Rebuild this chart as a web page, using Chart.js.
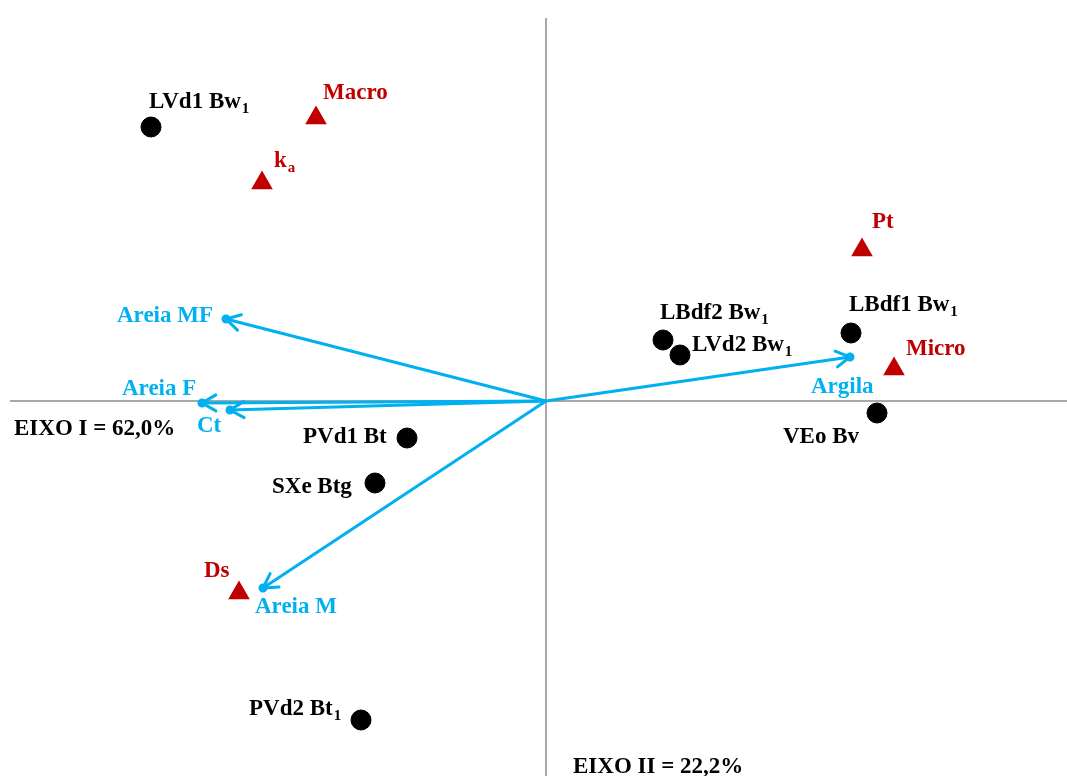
<!DOCTYPE html>
<html>
<head>
<meta charset="utf-8">
<script src="https://cdn.jsdelivr.net/npm/chart.js@4/dist/chart.umd.min.js"></script>
<style>
html,body{margin:0;padding:0;background:#fff;}
#wrap{width:1067px;height:776px;}
</style>
</head>
<body>
<div id="wrap"><canvas id="c" width="1067" height="776"></canvas></div>
<script>
// ---- data (PCA biplot scores) ----
const sampleNames = ["LVd1 Bw", "LBdf2 Bw", "LVd2 Bw", "LBdf1 Bw", "VEo Bv", "PVd1 Bt", "SXe Btg", "PVd2 Bt"];
const sampleSubs  = ["1", "1", "1", "1", "", "", "", "1"];
const sampleX = [-3.95, 1.17, 1.34, 3.05, 3.31, -1.39, -1.71, -1.85];
const sampleY = [ 2.74, 0.61, 0.46, 0.68, -0.12, -0.37, -0.82, -3.19];

const attrNames = ["Macro", "k", "Pt", "Micro", "Ds"];
const attrSubs  = ["", "a", "", "", ""];
const attrX = [-2.30, -2.84, 3.16, 3.48, -3.07];
const attrY = [ 2.83,  2.18, 1.51, 0.32, -1.92];

const vecNames = ["Areia MF", "Areia F", "Ct", "Areia M", "Argila"];
const vecX = [-3.20, -3.44, -3.16, -2.83, 3.04];
const vecY = [ 0.82, -0.02, -0.09, -1.87, 0.44];

const axisTitles = ["EIXO I = 62,0%", "EIXO II = 22,2%"];

// ---- label offsets (pixels, from marker to text baseline-left) ----
const sampleLabelOff = [[-2,-19],[-3,-21],[12,-4],[-2,-22],[-94,30],[-104,5],[-103,10],[-112,-5]];
const attrLabelOff   = [[7,-19],[12,-16],[10,-22],[12,-14],[-35,-16]];
const vecLabelOff    = [[-109,3],[-80,-8],[-33,22],[-8,25],[-39,36]];

const BLACK = "#000000", RED = "#C00000", BLUE = "#00B0F0", GREY = "#8C8C8C";
const FONT = "bold 23px 'Liberation Serif', 'Times New Roman', serif";
const SUBFONT = "bold 15px 'Liberation Serif', 'Times New Roman', serif";

const datasets = [];
vecNames.forEach((n, i) => {
  datasets.push({
    label: n, type: 'scatter', showLine: true,
    data: [{x:0, y:0}, {x: vecX[i], y: vecY[i]}],
    borderColor: BLUE, backgroundColor: BLUE, borderWidth: 3,
    pointRadius: [0, 3], pointHoverRadius: [0,3], clip: false, order: 3,
    isVector: true
  });
});
datasets.push({
  label: 'samples', type: 'scatter',
  data: sampleX.map((x, i) => ({x, y: sampleY[i]})),
  backgroundColor: BLACK, borderColor: BLACK, pointRadius: 10, pointHoverRadius: 10,
  pointStyle: 'circle', clip: false, order: 1
});
datasets.push({
  label: 'attributes', type: 'scatter',
  data: attrX.map((x, i) => ({x, y: attrY[i]})),
  backgroundColor: RED, borderColor: RED, pointRadius: 12.5, pointHoverRadius: 12.5,
  borderWidth: 0, pointStyle: 'triangle', clip: false, order: 2
});

function drawLabel(ctx, x, y, text, sub, color) {
  ctx.fillStyle = color;
  ctx.font = FONT;
  ctx.textAlign = 'left';
  ctx.textBaseline = 'alphabetic';
  ctx.fillText(text, x, y);
  if (sub) {
    const w = ctx.measureText(text).width;
    ctx.font = SUBFONT;
    ctx.fillText(sub, x + w + 1, y + 5);
  }
}

const biplotPlugin = {
  id: 'biplot',
  beforeDatasetsDraw(chart) {
    const ctx = chart.ctx, xs = chart.scales.x, ys = chart.scales.y;
    const x0 = xs.getPixelForValue(0), y0 = ys.getPixelForValue(0);
    ctx.save();
    ctx.strokeStyle = GREY; ctx.lineWidth = 1.5;
    ctx.beginPath();
    ctx.moveTo(xs.getPixelForValue(-5.36), y0); ctx.lineTo(xs.right, y0);
    ctx.moveTo(x0, ys.getPixelForValue(3.83)); ctx.lineTo(x0, ys.bottom);
    ctx.stroke();
    ctx.restore();
  },
  afterDatasetsDraw(chart) {
    const ctx = chart.ctx, xs = chart.scales.x, ys = chart.scales.y;
    const x0 = xs.getPixelForValue(0), y0 = ys.getPixelForValue(0);
    ctx.save();
    // arrow heads
    chart.data.datasets.forEach((ds, di) => {
      if (!ds.isVector) return;
      const meta = chart.getDatasetMeta(di);
      const p0 = meta.data[0], p1 = meta.data[1];
      const ang = Math.atan2(p1.y - p0.y, p1.x - p0.x);
      const L = 16, a = Math.PI / 6;
      ctx.strokeStyle = BLUE; ctx.lineWidth = 3; ctx.lineCap = 'round';
      ctx.beginPath();
      ctx.moveTo(p1.x - L * Math.cos(ang - a), p1.y - L * Math.sin(ang - a));
      ctx.lineTo(p1.x, p1.y);
      ctx.lineTo(p1.x - L * Math.cos(ang + a), p1.y - L * Math.sin(ang + a));
      ctx.stroke();
    });
    // vector labels
    vecNames.forEach((n, i) => {
      const px = xs.getPixelForValue(vecX[i]), py = ys.getPixelForValue(vecY[i]);
      drawLabel(ctx, px + vecLabelOff[i][0], py + vecLabelOff[i][1], n, '', BLUE);
    });
    sampleNames.forEach((n, i) => {
      const px = xs.getPixelForValue(sampleX[i]), py = ys.getPixelForValue(sampleY[i]);
      drawLabel(ctx, px + sampleLabelOff[i][0], py + sampleLabelOff[i][1], n, sampleSubs[i], BLACK);
    });
    attrNames.forEach((n, i) => {
      const px = xs.getPixelForValue(attrX[i]), py = ys.getPixelForValue(attrY[i]);
      drawLabel(ctx, px + attrLabelOff[i][0], py + attrLabelOff[i][1], n, attrSubs[i], RED);
    });
    // axis titles
    drawLabel(ctx, 14, y0 + 34, axisTitles[0], '', BLACK);
    drawLabel(ctx, x0 + 27, ys.bottom - 3, axisTitles[1], '', BLACK);
    ctx.restore();
  }
};

new Chart(document.getElementById('c'), {
  type: 'scatter',
  data: { datasets },
  options: {
    responsive: false, animation: false,
    layout: { padding: 0, autoPadding: false },
    plugins: { legend: { display: false }, tooltip: { enabled: false } },
    scales: {
      x: { type: 'linear', display: false, min: -5.46, max: 5.21 },
      y: { type: 'linear', display: false, min: -3.75, max: 4.01 }
    }
  },
  plugins: [biplotPlugin]
});
</script>
</body>
</html>
